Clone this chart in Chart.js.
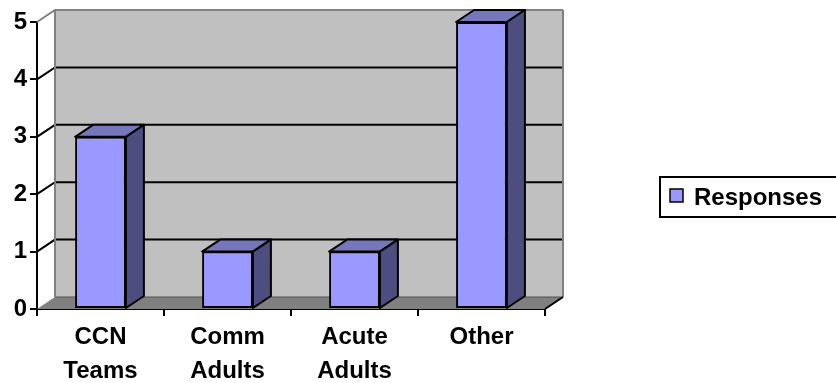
<!DOCTYPE html>
<html>
<head>
<meta charset="utf-8">
<script src="https://cdn.jsdelivr.net/npm/chart.js@4"></script>
<style>
  html, body { margin: 0; padding: 0; background: #fff; }
  #wrap { width: 836px; height: 383px; }
</style>
</head>
<body>
<div id="wrap"><canvas id="chart" width="836" height="383"></canvas></div>
<script>
const categories = [['CCN', 'Teams'], ['Comm', 'Adults'], ['Acute', 'Adults'], ['Other']];
const responses = [3, 1, 1, 5];
const yTicks = [0, 1, 2, 3, 4, 5];
const seriesName = 'Responses';

const FONT = "Arial, 'Liberation Sans', sans-serif";
const DX = 18, DY = -12; // depth of the 3D box

// wall, floor, back gridlines
const boxPlugin = {
  id: 'box3d',
  beforeDatasetsDraw(chart) {
    const { ctx, chartArea: a, scales: { y } } = chart;
    ctx.save();
    // back wall
    ctx.fillStyle = '#c0c0c0';
    ctx.fillRect(a.left + DX, a.top + DY, a.right - a.left, a.bottom - a.top);
    // floor
    ctx.fillStyle = '#808080';
    ctx.beginPath();
    ctx.moveTo(a.left, a.bottom);
    ctx.lineTo(a.right, a.bottom);
    ctx.lineTo(a.right + DX, a.bottom + DY);
    ctx.lineTo(a.left + DX, a.bottom + DY);
    ctx.closePath();
    ctx.fill();
    ctx.strokeStyle = '#505050';
    ctx.lineWidth = 1;
    ctx.beginPath();
    ctx.moveTo(a.left + DX, a.bottom + DY);
    ctx.lineTo(a.right + DX, a.bottom + DY);
    ctx.stroke();

    // gridlines on the wall + stubs on the left side
    yTicks.forEach(v => {
      const py = y.getPixelForValue(v);
      if (v === 0) return;
      const top = v === yTicks[yTicks.length - 1];
      ctx.strokeStyle = top ? '#808080' : '#000';
      ctx.lineWidth = 2;
      ctx.beginPath();
      ctx.moveTo(a.left, py);
      ctx.lineTo(a.left + DX, py + DY);
      ctx.lineTo(a.right + DX, py + DY);
      ctx.stroke();
    });
    // wall outline
    ctx.strokeStyle = '#808080';
    ctx.lineWidth = 2;
    ctx.beginPath();
    ctx.moveTo(a.left + DX, a.bottom + DY);
    ctx.lineTo(a.left + DX, a.top + DY);
    ctx.moveTo(a.right + DX, a.top + DY);
    ctx.lineTo(a.right + DX, a.bottom + DY);
    ctx.stroke();
    // floor right edge
    ctx.strokeStyle = '#000';
    ctx.beginPath();
    ctx.moveTo(a.right, a.bottom);
    ctx.lineTo(a.right + DX, a.bottom + DY);
    ctx.stroke();
    ctx.restore();
  },
  afterDatasetsDraw(chart) {
    const { ctx } = chart;
    const meta = chart.getDatasetMeta(0);
    ctx.save();
    ctx.lineWidth = 2;
    ctx.strokeStyle = '#000';
    ctx.lineJoin = 'round';
    meta.data.forEach(bar => {
      const l = bar.x - bar.width / 2, r = bar.x + bar.width / 2;
      const t = bar.y, b = bar.base;
      // top face
      ctx.fillStyle = '#7676bb';
      ctx.beginPath();
      ctx.moveTo(l, t);
      ctx.lineTo(l + DX, t + DY);
      ctx.lineTo(r + DX, t + DY);
      ctx.lineTo(r, t);
      ctx.closePath();
      ctx.fill();
      ctx.stroke();
      // side face
      ctx.fillStyle = '#4d4d80';
      ctx.beginPath();
      ctx.moveTo(r, t);
      ctx.lineTo(r + DX, t + DY);
      ctx.lineTo(r + DX, b + DY);
      ctx.lineTo(r, b);
      ctx.closePath();
      ctx.fill();
      ctx.stroke();
    });
    ctx.restore();
  },
  afterDraw(chart) {
    // legend box
    const { ctx } = chart;
    ctx.save();
    ctx.strokeStyle = '#000';
    ctx.lineWidth = 2;
    ctx.strokeRect(660, 177, 200, 40);
    ctx.fillStyle = '#9999ff';
    ctx.fillRect(670, 189, 13, 13);
    ctx.lineWidth = 1.5;
    ctx.strokeRect(670, 189, 13, 13);
    ctx.fillStyle = '#000';
    ctx.font = 'bold 24px ' + FONT;
    ctx.textBaseline = 'middle';
    ctx.fillText(chart.data.datasets[0].label, 694, 198);
    ctx.restore();
  }
};

new Chart(document.getElementById('chart'), {
  type: 'bar',
  data: {
    labels: categories,
    datasets: [{
      label: seriesName,
      data: responses,
      backgroundColor: '#9999ff',
      borderColor: '#000',
      borderWidth: 2,
      borderSkipped: false,
      barPercentage: 0.4,
      categoryPercentage: 1
    }]
  },
  options: {
    responsive: false,
    animation: false,
    layout: { padding: { top: 22, right: 291, left: 0, bottom: 0 } },
    plugins: {
      legend: { display: false },
      tooltip: { enabled: false }
    },
    scales: {
      y: {
        min: 0,
        max: 5,
        afterFit(s) { s.width = 37; },
        afterBuildTicks(s) { s.ticks = yTicks.map(v => ({ value: v })); },
        ticks: { color: '#000', padding: 3, font: { family: FONT, size: 24, weight: 'bold' } },
        grid: { drawOnChartArea: false, drawTicks: true, tickLength: 7, color: '#000', lineWidth: 2 },
        border: { display: true, color: '#000', width: 2 }
      },
      x: {
        afterFit(s) { s.height = 74; },
        ticks: { color: '#000', padding: 5, maxRotation: 0, font: { family: FONT, size: 24, weight: 'bold', lineHeight: 1.4 } },
        grid: { drawOnChartArea: false, drawTicks: true, tickLength: 7, color: '#000', lineWidth: 2, offset: true },
        border: { display: true, color: '#000', width: 2 }
      }
    }
  },
  plugins: [boxPlugin]
});
</script>
</body>
</html>
